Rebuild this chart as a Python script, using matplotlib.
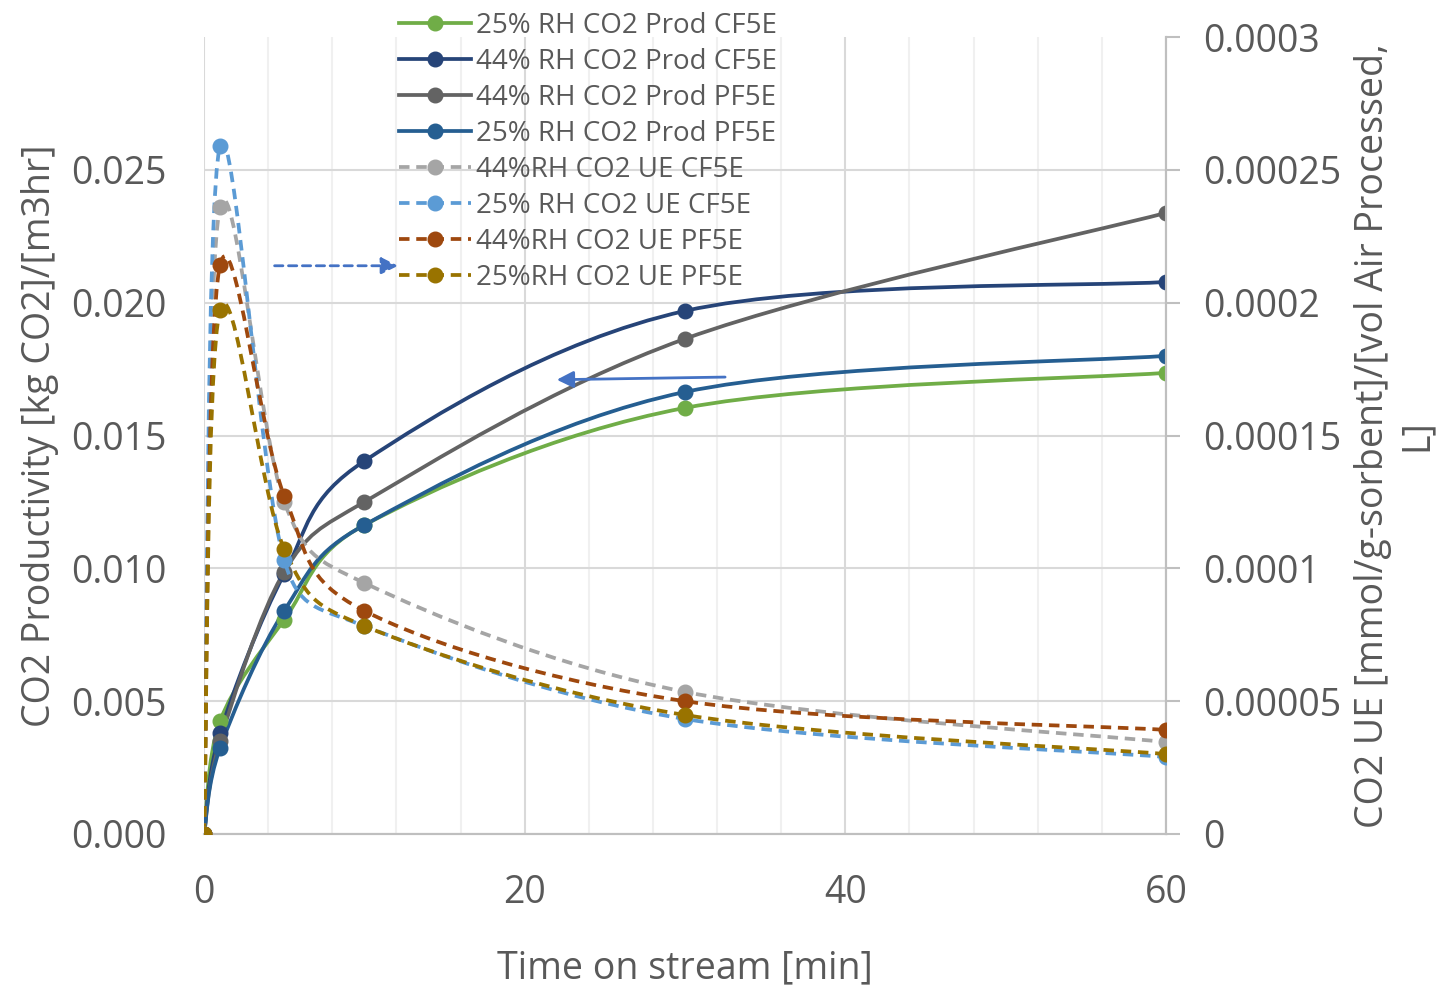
import matplotlib.pyplot as plt
import numpy as np
from matplotlib.path import Path
from matplotlib.patches import PathPatch
from matplotlib.lines import Line2D
from matplotlib.ticker import MultipleLocator

plt.rcParams['font.family'] = ['Open Sans', 'DejaVu Sans']

# time on stream [min]
time_min = [0, 1, 5, 10, 30, 60]

# CO2 productivity [kg CO2]/[m3hr] (left axis)
prod_25_cf5e = [0.0, 0.00425, 0.00806, 0.01163, 0.01604, 0.01736]
prod_44_cf5e = [0.0, 0.0038, 0.00979, 0.01404, 0.01969, 0.02078]
prod_44_pf5e = [0.0, 0.0035, 0.00987, 0.0125, 0.01864, 0.02338]
prod_25_pf5e = [0.0, 0.00324, 0.0084, 0.01163, 0.01664, 0.018]

# CO2 UE [mmol/g-sorbent]/[vol air processed, L] (right axis)
ue_44_cf5e = [0.0, 0.000236, 0.000125, 0.0000945, 0.0000535, 0.0000346]
ue_25_cf5e = [0.0, 0.000259, 0.000103, 0.0000783, 0.0000433, 0.000029]
ue_44_pf5e = [0.0, 0.0002142, 0.0001273, 0.000084, 0.00005, 0.0000392]
ue_25_pf5e = [0.0, 0.0001973, 0.0001073, 0.0000783, 0.0000448, 0.0000301]

prod_series = [
    ("25% RH CO2 Prod CF5E", prod_25_cf5e, "#70AD47"),
    ("44% RH CO2 Prod CF5E", prod_44_cf5e, "#264478"),
    ("44% RH CO2 Prod PF5E", prod_44_pf5e, "#636363"),
    ("25% RH CO2 Prod PF5E", prod_25_pf5e, "#255E91"),
]
ue_series = [
    ("44%RH CO2 UE CF5E", ue_44_cf5e, "#A5A5A5"),
    ("25% RH CO2 UE CF5E", ue_25_cf5e, "#5B9BD5"),
    ("44%RH CO2 UE PF5E", ue_44_pf5e, "#9E480E"),
    ("25%RH CO2 UE PF5E", ue_25_pf5e, "#997300"),
]

TEXT = "#595959"
LW = 2.7
MS = 10.5
DASH = (0, (2.8, 1.8))


def smooth_path(a, xs, ys):
    # Excel-like smoothed line: Bezier control points worked out in pixel space,
    # tangent length capped at half the segment
    trans = a.transData
    pts = trans.transform(np.column_stack([xs, ys]))
    n = len(pts)
    verts = [pts[0]]
    codes = [Path.MOVETO]
    for i in range(n - 1):
        p0 = pts[i - 1] if i > 0 else pts[i]
        p1 = pts[i]
        p2 = pts[i + 1]
        p3 = pts[i + 2] if i + 2 < n else pts[i + 1]
        d12 = np.hypot(*(p2 - p1))
        t1 = p2 - p0
        t2 = p3 - p1
        l1 = np.hypot(*t1)
        l2 = np.hypot(*t2)
        f1 = 1 / 6 if l1 / 6 < d12 / 2 else (d12 / 2) / l1
        f2 = 1 / 6 if l2 / 6 < d12 / 2 else (d12 / 2) / l2
        verts += [p1 + t1 * f1, p2 - t2 * f2, p2]
        codes += [Path.CURVE4] * 3
    verts = trans.inverted().transform(np.array(verts))
    return Path(verts, codes)


fig = plt.figure(figsize=(14.42, 9.85), dpi=100)
ax = fig.add_axes([0.1415, 0.1533, 0.8086 - 0.1415, 0.9624 - 0.1533])
ax2 = ax.twinx()

ax.set_xlim(0, 60)
ax.set_ylim(0, 0.030)
ax2.set_ylim(0, 0.0003)

handles = []
for label, vals, color in prod_series:
    ax.add_patch(PathPatch(smooth_path(ax, time_min, vals), fill=False,
                           edgecolor=color, lw=LW, zorder=3))
    ax.plot(time_min, vals, 'o', color=color, ms=MS, zorder=4)
    handles.append(Line2D([], [], color=color, lw=LW, marker='o', ms=MS, label=label))

for label, vals, color in ue_series:
    ax2.add_patch(PathPatch(smooth_path(ax2, time_min, vals), fill=False,
                            edgecolor=color, lw=LW, linestyle=DASH, zorder=3))
    ax2.plot(time_min, vals, 'o', color=color, ms=MS, zorder=4)
    handles.append(Line2D([], [], color=color, lw=LW, ls=DASH, marker='o',
                          ms=MS, label=label))

# grid
ax.xaxis.set_major_locator(MultipleLocator(20))
ax.xaxis.set_minor_locator(MultipleLocator(4))
ax.set_yticks([0, 0.005, 0.010, 0.015, 0.020, 0.025])
ax.set_yticklabels(["0.000", "0.005", "0.010", "0.015", "0.020", "0.025"])
ax.grid(which='major', color='#D9D9D9', lw=1.5)
ax.grid(which='minor', axis='x', color='#F0F0F0', lw=1.5)
ax.set_axisbelow(True)

ax2.set_yticks([0, 0.00005, 0.0001, 0.00015, 0.0002, 0.00025, 0.0003])
ax2.set_yticklabels(["0", "0.00005", "0.0001", "0.00015", "0.0002", "0.00025", "0.0003"])

for a in (ax, ax2):
    for s in ('top', 'left'):
        a.spines[s].set_visible(False)
    a.spines['bottom'].set_color('#BFBFBF')
    a.spines['bottom'].set_linewidth(1.5)
    a.spines['right'].set_color('#BFBFBF')
    a.spines['right'].set_linewidth(1.5)

ax.tick_params(axis='y', which='both', length=0, labelsize=27, labelcolor=TEXT, pad=27)
ax.tick_params(axis='x', which='both', length=0, labelsize=27, labelcolor=TEXT, pad=29)
ax2.tick_params(axis='y', length=10, width=1.5, color='#BFBFBF', labelsize=27,
                labelcolor=TEXT, pad=17)

ax.set_xlabel("Time on stream [min]", fontsize=27, color=TEXT, labelpad=27)
ax.set_ylabel("CO2 Productivity [kg CO2]/[m3hr]", fontsize=27, color=TEXT, labelpad=9)
ax2.set_ylabel("CO2 UE [mmol/g-sorbent]/[vol Air Processed,\nL]", fontsize=27,
               color=TEXT, labelpad=9, multialignment='center')

# arrows pointing to the matching axis
ax.annotate("", xy=(12.1, 0.02139), xytext=(4.4, 0.02139),
            arrowprops=dict(arrowstyle='-|>', color='#4472C4', lw=2, ls=(0, (3, 2)),
                            mutation_scale=25, shrinkA=0, shrinkB=0), zorder=5)
ax.annotate("", xy=(22.0, 0.0171), xytext=(32.5, 0.0172),
            arrowprops=dict(arrowstyle='-|>', color='#4472C4', lw=2,
                            mutation_scale=25, shrinkA=0, shrinkB=0), zorder=5)

leg = ax2.legend(handles=handles, loc='upper left', bbox_to_anchor=(0.263, 1.008),
                 bbox_transform=fig.transFigure, frameon=False, fontsize=20,
                 handlelength=2.6, labelspacing=0.29, handletextpad=0.2,
                 labelcolor=TEXT, borderpad=0.2)
leg.set_zorder(10)

fig.savefig("out.png", dpi=100)
